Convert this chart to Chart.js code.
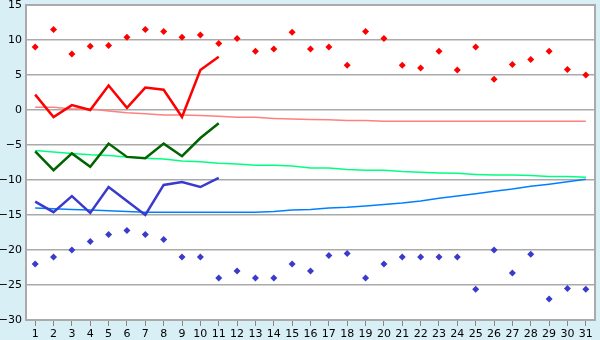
<!DOCTYPE html>
<html><head><meta charset="utf-8">
<script src="https://cdn.jsdelivr.net/npm/chart.js@4.4.1/dist/chart.umd.min.js"></script>
<style>html,body{margin:0;padding:0;background:#d9eff6;}#w{width:600px;height:340px;}</style>
</head><body><div id="w"><canvas id="c" width="600" height="340"></canvas></div>
<script>
const days = Array.from({length:31},(_,i)=>String(i+1));
const maxPoints = [9.0,11.5,8.0,9.1,9.2,10.4,11.5,11.2,10.4,10.7,9.5,10.2,8.4,8.7,11.1,8.7,9.0,6.4,11.2,10.2,6.4,6.0,8.4,5.7,9.0,4.4,6.5,7.2,8.4,5.8,5.0];
const minPoints = [-22.0,-21.0,-20.0,-18.8,-17.8,-17.2,-17.8,-18.5,-21.0,-21.0,-24.0,-23.0,-24.0,-24.0,-22.0,-23.0,-20.8,-20.5,-24.0,-22.0,-21.0,-21.0,-21.0,-21.0,-25.6,-20.0,-23.3,-20.6,-27.0,-25.5,-25.6];
const maxLine = [2.2,-1.0,0.7,0.0,3.5,0.3,3.2,2.9,-1.0,5.7,7.6];
const meanLine = [-5.9,-8.6,-6.2,-8.1,-4.8,-6.7,-6.9,-4.8,-6.6,-4.0,-1.9];
const minLine = [-13.1,-14.6,-12.3,-14.7,-11.0,-13.0,-15.0,-10.7,-10.3,-11.0,-9.7];
const maxNormal = [0.4,0.4,0.15,0.15,-0.15,-0.4,-0.55,-0.7,-0.7,-0.8,-0.9,-1.05,-1.05,-1.2,-1.3,-1.35,-1.4,-1.5,-1.5,-1.6,-1.6,-1.6,-1.6,-1.6,-1.6,-1.6,-1.6,-1.6,-1.6,-1.6,-1.6];
const meanNormal = [-5.8,-6.0,-6.2,-6.4,-6.5,-6.7,-6.9,-7.0,-7.3,-7.4,-7.6,-7.7,-7.9,-7.9,-8.0,-8.3,-8.3,-8.5,-8.6,-8.6,-8.8,-8.9,-9.0,-9.05,-9.2,-9.3,-9.3,-9.35,-9.5,-9.5,-9.6];
const minNormal = [-14.0,-14.1,-14.2,-14.3,-14.4,-14.5,-14.6,-14.6,-14.6,-14.6,-14.6,-14.6,-14.6,-14.5,-14.3,-14.2,-14.0,-13.9,-13.7,-13.5,-13.3,-13.0,-12.6,-12.3,-11.95,-11.6,-11.3,-10.9,-10.6,-10.25,-9.9];
const yMin = -30, yMax = 15, yStep = 5;

const bgPlugin = {
  id:'bg',
  beforeDraw(chart){
    const {ctx, chartArea:a} = chart;
    ctx.save();
    ctx.fillStyle='#d9eff6';
    ctx.fillRect(0,0,chart.width,chart.height);
    ctx.fillStyle='#ffffff';
    ctx.fillRect(a.left,a.top,a.right-a.left,a.bottom-a.top);
    ctx.restore();
  },
  beforeDatasetsDraw(chart){
    const {ctx, chartArea:a} = chart;
    ctx.save();
    ctx.strokeStyle='#aaaaaa';
    ctx.lineWidth=2;
    ctx.strokeRect(a.left,a.top,a.right-a.left,a.bottom-a.top);
    ctx.restore();
  }
};

const lineDs = (data,color,w,order)=>({type:'line',data,borderColor:color,backgroundColor:color,borderWidth:w,pointRadius:0,tension:0,fill:false,order});
const ptDs = (data,color)=>({type:'line',data,showLine:false,pointStyle:'rectRot',pointRadius:3.5,pointBorderWidth:0,pointBackgroundColor:color,borderColor:color,backgroundColor:color,order:1});

new Chart(document.getElementById('c'),{
  type:'line',
  data:{labels:days,datasets:[
    ptDs(maxPoints,'#ff0000'),
    ptDs(minPoints,'#3a3acc'),
    lineDs(maxLine,'#ff0000',2.5,2),
    lineDs(meanLine,'#006400',2.5,2),
    lineDs(minLine,'#3a3acc',2.5,2),
    lineDs(maxNormal,'#ff8080',1.5,3),
    lineDs(meanNormal,'#00ff80',1.5,3),
    lineDs(minNormal,'#0080ff',1.5,3)
  ]},
  options:{
    responsive:false,animation:false,
    layout:{padding:{top:5,right:5,left:0,bottom:0}},
    plugins:{legend:{display:false},tooltip:{enabled:false}},
    scales:{
      x:{type:'category',offset:true,
        grid:{display:true,drawOnChartArea:false,drawTicks:true,tickLength:6,offset:false,color:'#888888',lineWidth:1},
        border:{display:false},
        ticks:{color:'#000',font:{family:'DejaVu Sans',size:11},padding:2,maxRotation:0,autoSkip:false},
        afterFit(s){s.height=20;s.paddingLeft=0;s.paddingRight=0;}
      },
      y:{min:yMin,max:yMax,
        grid:{color:'#aaaaaa',lineWidth:1.5,drawTicks:false},
        border:{display:false},
        ticks:{stepSize:yStep,color:'#000',font:{family:'DejaVu Sans',size:11},padding:4,
          callback:v=>String(v).replace('-','\u2212')},
        afterFit(s){s.width=26;s.paddingTop=0;s.paddingBottom=0;}
      }
    }
  },
  plugins:[bgPlugin]
});
</script></body></html>
